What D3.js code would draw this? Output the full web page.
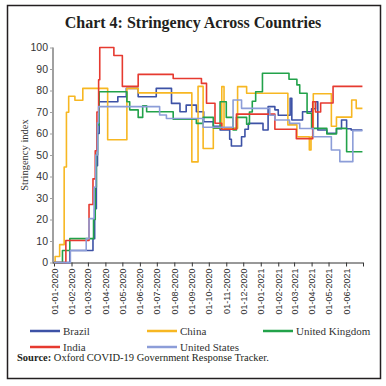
<!DOCTYPE html>
<html>
<head>
<meta charset="utf-8">
<script src="https://d3js.org/d3.v7.min.js"></script>
<style>
  body { margin: 0; background: #ffffff; }
  .serif { font-family: "Liberation Serif", "DejaVu Serif", serif; }
  .title { font-weight: bold; font-size: 16px; fill: #231f20; }
  .axis text { font-family: "Liberation Sans", Arial, sans-serif; fill: #333333; }
  .y-axis path, .y-axis line { stroke: #a0a0a0; }
  .y-axis path { stroke-width: 2; }
  .x-axis path, .x-axis line { stroke: #333333; }
  .y-label { font-size: 10.5px; fill: #333333; }
  .legend text { font-size: 11px; fill: #333333; }
  .source { font-size: 10.5px; fill: #231f20; }
  .series { fill: none; stroke-width: 1.6; stroke-linejoin: round; }
</style>
</head>
<body>
<script>
const COUNTRIES = ["Brazil", "China", "United Kingdom", "India", "United States"];
const COLORS = ["#3d52a6", "#f7b722", "#22a24a", "#e63a30", "#8c9dd8"];
const Y_TICKS = [0, 10, 20, 30, 40, 50, 60, 70, 80, 90, 100];
const END_DATE = "2021-06-30";

const BRAZIL = [
  ["2020-01-01", 0], ["2020-01-29", 5.6], ["2020-03-10", 11.1], ["2020-03-13", 25], ["2020-03-16", 45],
  ["2020-03-18", 60], ["2020-03-21", 74.8], ["2020-04-23", 77.1], ["2020-05-08", 81], ["2020-05-29", 77.1],
  ["2020-06-30", 81], ["2020-07-27", 74], ["2020-08-11", 70.1], ["2020-08-22", 73.2], ["2020-09-09", 70.1],
  ["2020-09-22", 65.5], ["2020-10-09", 63.4], ["2020-10-21", 61.6], ["2020-11-07", 57.3], ["2020-11-10", 54.2],
  ["2020-11-28", 58.5], ["2020-12-04", 62], ["2020-12-10", 64.7], ["2021-01-05", 61.6], ["2021-01-14", 72.5],
  ["2021-01-26", 71], ["2021-02-01", 68.5], ["2021-02-22", 76.4], ["2021-02-25", 66.3], ["2021-03-16", 70.1],
  ["2021-04-01", 71.5], ["2021-04-08", 74.8], ["2021-04-12", 61.6], ["2021-04-28", 60.1], ["2021-05-15", 62.2],
  ["2021-05-24", 66.3], ["2021-06-02", 62.2], ["2021-06-10", 61.6]
];
const CHINA = [
  ["2020-01-01", 0], ["2020-01-03", 2.8], ["2020-01-11", 8.3], ["2020-01-19", 44.4], ["2020-01-23", 69.9],
  ["2020-01-27", 77.3], ["2020-02-07", 75.5], ["2020-02-21", 81], ["2020-04-05", 57.1], ["2020-05-09", 81],
  ["2020-05-29", 78.9], ["2020-09-01", 46.8], ["2020-09-12", 81.9], ["2020-09-21", 53], ["2020-10-09", 62.5],
  ["2020-10-24", 81.8], ["2020-10-28", 62.5], ["2020-11-21", 81.8], ["2020-12-07", 78.7], ["2021-02-18", 64],
  ["2021-03-06", 58.5], ["2021-03-28", 52.3], ["2021-03-31", 58.5], ["2021-04-04", 78.5], ["2021-05-06", 63.4],
  ["2021-05-15", 67.6], ["2021-06-11", 75.6], ["2021-06-19", 71.7]
];
const UK = [
  ["2020-01-01", 0], ["2020-01-16", 5.6], ["2020-01-29", 11.1], ["2020-03-11", 20], ["2020-03-14", 35],
  ["2020-03-16", 50], ["2020-03-18", 64], ["2020-03-21", 79.4], ["2020-05-09", 74.8], ["2020-05-14", 71],
  ["2020-05-29", 67.5], ["2020-06-06", 72.9], ["2020-06-13", 70.1], ["2020-07-30", 66.6], ["2020-09-09", 64.7],
  ["2020-09-21", 67.5], ["2020-10-09", 62.6], ["2020-10-21", 74.8], ["2020-11-01", 67.5], ["2020-11-13", 61.6],
  ["2020-11-19", 67.5], ["2020-12-07", 64.3], ["2020-12-12", 70], ["2020-12-17", 75], ["2020-12-23", 79.4],
  ["2021-01-04", 88], ["2021-02-20", 85.2], ["2021-03-06", 82.6], ["2021-03-11", 78.7], ["2021-03-24", 69.4],
  ["2021-04-01", 62.4], ["2021-04-28", 59.8], ["2021-05-15", 62.4], ["2021-06-02", 51.5]
];
const INDIA = [
  ["2020-01-01", 0], ["2020-01-22", 10.2], ["2020-03-03", 27], ["2020-03-10", 38.9], ["2020-03-14", 52],
  ["2020-03-17", 70], ["2020-03-20", 85], ["2020-03-22", 100], ["2020-04-16", 96.3], ["2020-05-01", 81.9],
  ["2020-05-29", 87.5], ["2020-07-30", 85.6], ["2020-09-18", 83.3], ["2020-09-27", 74.1], ["2020-10-12", 64.8],
  ["2020-10-24", 62], ["2020-11-19", 69], ["2021-01-26", 62], ["2021-03-05", 57.6], ["2021-04-03", 74.8],
  ["2021-04-08", 70], ["2021-04-17", 74.2], ["2021-05-09", 81.9]
];
const US = [
  ["2020-01-01", 0], ["2020-01-30", 5.6], ["2020-02-27", 11.1], ["2020-03-03", 20.4], ["2020-03-12", 35],
  ["2020-03-15", 50], ["2020-03-18", 65], ["2020-03-20", 72.5], ["2020-07-06", 68.6], ["2020-07-18", 67],
  ["2020-09-21", 62.9], ["2020-11-13", 75.6], ["2020-11-28", 71.7], ["2021-01-17", 68.5], ["2021-01-26", 66.3],
  ["2021-02-21", 64.7], ["2021-03-11", 62.3], ["2021-04-04", 58.5], ["2021-05-06", 52.3], ["2021-05-21", 46.9],
  ["2021-06-13", 61.3]
];
const SERIES = [BRAZIL, CHINA, UK, INDIA, US];

const W = 386, H = 386;
const parse = d3.timeParse("%Y-%m-%d");

const svg = d3.select("body").append("svg")
  .attr("width", W)
  .attr("height", H);

// frame
svg.append("rect")
  .attr("x", 7.5).attr("y", 5.5)
  .attr("width", 373).attr("height", 373)
  .attr("fill", "none")
  .attr("stroke", "#231f20")
  .attr("stroke-width", 1.5);

svg.append("text")
  .attr("x", 193).attr("y", 28)
  .attr("text-anchor", "middle")
  .classed("title serif", true)
  .text("Chart 4: Stringency Across Countries");

const x = d3.scaleTime()
  .domain([parse("2020-01-01"), parse("2021-07-01")])
  .range([54, 363]);
const y = d3.scaleLinear()
  .domain([0, 100])
  .range([262.5, 47.5]);

// y axis
const yAxisGroup = svg.append("g")
  .attr("class", "axis y-axis")
  .attr("transform", "translate(53,0)")
  .call(d3.axisLeft(y).tickValues(Y_TICKS).tickSize(3).tickSizeOuter(0).tickPadding(2));
yAxisGroup.selectAll("text").style("font-size", "10.5px");
yAxisGroup.select(".domain").attr("d", "M0," + (y(0) + 1) + "V" + y(100));

// x axis
const monthTicks = d3.timeMonth.range(parse("2020-01-01"), d3.timeDay.offset(parse("2021-07-01"), 1));
const fmt = d3.timeFormat("%d-%m-%Y");
const xAxisGroup = svg.append("g")
  .attr("class", "axis x-axis")
  .attr("transform", "translate(0," + y(0) + ")")
  .call(d3.axisBottom(x).tickValues(monthTicks).tickSize(4).tickSizeOuter(0)
    .tickFormat(d => d < parse("2021-07-01") ? fmt(d) : ""));
xAxisGroup.select(".domain").attr("d", "M53,0.5H" + x(parse("2021-07-01")));
xAxisGroup.selectAll("text")
  .style("font-size", "9px")
  .attr("text-anchor", "end")
  .attr("dominant-baseline", "central")
  .attr("transform", "rotate(-90)")
  .attr("x", -6)
  .attr("y", 0)
  .attr("dy", null);

svg.append("text")
  .attr("transform", "translate(28,155) rotate(-90)")
  .attr("text-anchor", "middle")
  .classed("y-label serif", true)
  .text("Stringency index");

// series
const line = d3.line()
  .curve(d3.curveStepAfter)
  .x(d => x(d.date))
  .y(d => y(d.value));

SERIES.forEach(function(rows, i) {
  const data = rows.map(r => ({date: parse(r[0]), value: r[1]}));
  data.push({date: parse(END_DATE), value: rows[rows.length - 1][1]});
  svg.append("path")
    .datum(data)
    .attr("class", "series")
    .attr("stroke", COLORS[i])
    .attr("d", line);
});

// legend
const legendPos = [[30, 331], [147, 331], [263, 331], [30, 347], [147, 347]];
const legend = svg.append("g").attr("class", "legend serif");
COUNTRIES.forEach(function(name, i) {
  const p = legendPos[i];
  legend.append("line")
    .attr("x1", p[0]).attr("x2", p[0] + 30)
    .attr("y1", p[1]).attr("y2", p[1])
    .attr("stroke", COLORS[i])
    .attr("stroke-width", 2.5);
  legend.append("text")
    .attr("x", p[0] + 33).attr("y", p[1] + 3.5)
    .text(name);
});

const source = svg.append("text")
  .attr("x", 17).attr("y", 361)
  .classed("source serif", true);
source.append("tspan").style("font-weight", "bold").text("Source:");
source.append("tspan").text(" Oxford COVID-19 Government Response Tracker.");
</script>
</body>
</html>
